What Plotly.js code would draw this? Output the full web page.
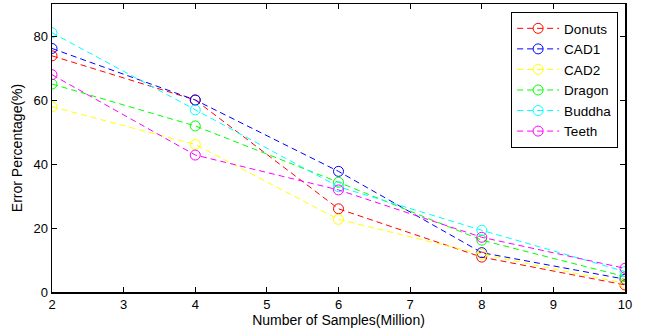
<!DOCTYPE html>
<html><head><meta charset="utf-8">
<script src="https://cdn.plot.ly/plotly-3.0.1.min.js"></script>
<style>body{margin:0;background:#fff}#chart{width:646px;height:332px}</style>
</head><body><div id="chart"></div>
<script>
const samples = [2, 4, 6, 8, 10];
const seriesNames = ["Donuts", "CAD1", "CAD2", "Dragon", "Buddha", "Teeth"];
const donuts = [73.8, 60.0, 26.0, 10.9, 2.2];
const cad1   = [76.1, 60.0, 37.7, 12.3, 4.0];
const cad2   = [57.9, 46.1, 22.7, 11.8, 2.7];
const dragon = [65.0, 51.9, 34.3, 16.2, 4.8];
const buddha = [81.0, 56.9, 32.9, 19.3, 6.4];
const teeth  = [67.9, 42.8, 31.9, 17.1, 7.4];
const seriesValues = [donuts, cad1, cad2, dragon, buddha, teeth];
const seriesColors = ["#ff0000", "#0000ff", "#ffff00", "#00ff00", "#00ffff", "#ff00ff"];
const xTicks = [2, 3, 4, 5, 6, 7, 8, 9, 10];
const yTicks = [0, 20, 40, 60, 80];

const traces = seriesNames.map((n, i) => ({
  x: samples, y: seriesValues[i], name: n, type: 'scatter', mode: 'lines+markers',
  line: {color: seriesColors[i], width: 1, dash: '6px,4px'},
  marker: {symbol: 'circle-open', size: 10, color: seriesColors[i], line: {width: 1}}
}));

const FONT = 'Liberation Sans, Arial, sans-serif';
const axisCommon = {
  showgrid: false, zeroline: false, showline: true, linecolor: '#000', linewidth: 1.5,
  mirror: 'ticks', ticks: 'inside', ticklen: 5, tickcolor: '#000', tickwidth: 1,
  tickfont: {family: FONT, size: 13, color: '#000'}
};

const layout = {
  width: 646, height: 332,
  margin: {l: 52, r: 21, t: 4, b: 40},
  paper_bgcolor: '#fff', plot_bgcolor: '#fff',
  font: {family: FONT, size: 13, color: '#000'},
  xaxis: Object.assign({}, axisCommon, {
    range: [2, 10], tickvals: xTicks, ticktext: xTicks.map(String),
    title: {text: 'Number of Samples(Million)', standoff: 1, font: {size: 14}}
  }),
  yaxis: Object.assign({}, axisCommon, {
    range: [0, 90], tickvals: yTicks, ticktext: yTicks.map(String),
    title: {text: 'Error Percentage(%)', standoff: 7, font: {size: 14}}
  }),
  legend: {
    x: 0.988, y: 0.972, xanchor: 'right', yanchor: 'top',
    bgcolor: '#fff', bordercolor: '#000', borderwidth: 1,
    font: {size: 13.5}, tracegroupgap: 0, itemwidth: 42
  },
  showlegend: true
};

Plotly.newPlot('chart', traces, layout, {displayModeBar: false, staticPlot: true});
</script></body></html>
